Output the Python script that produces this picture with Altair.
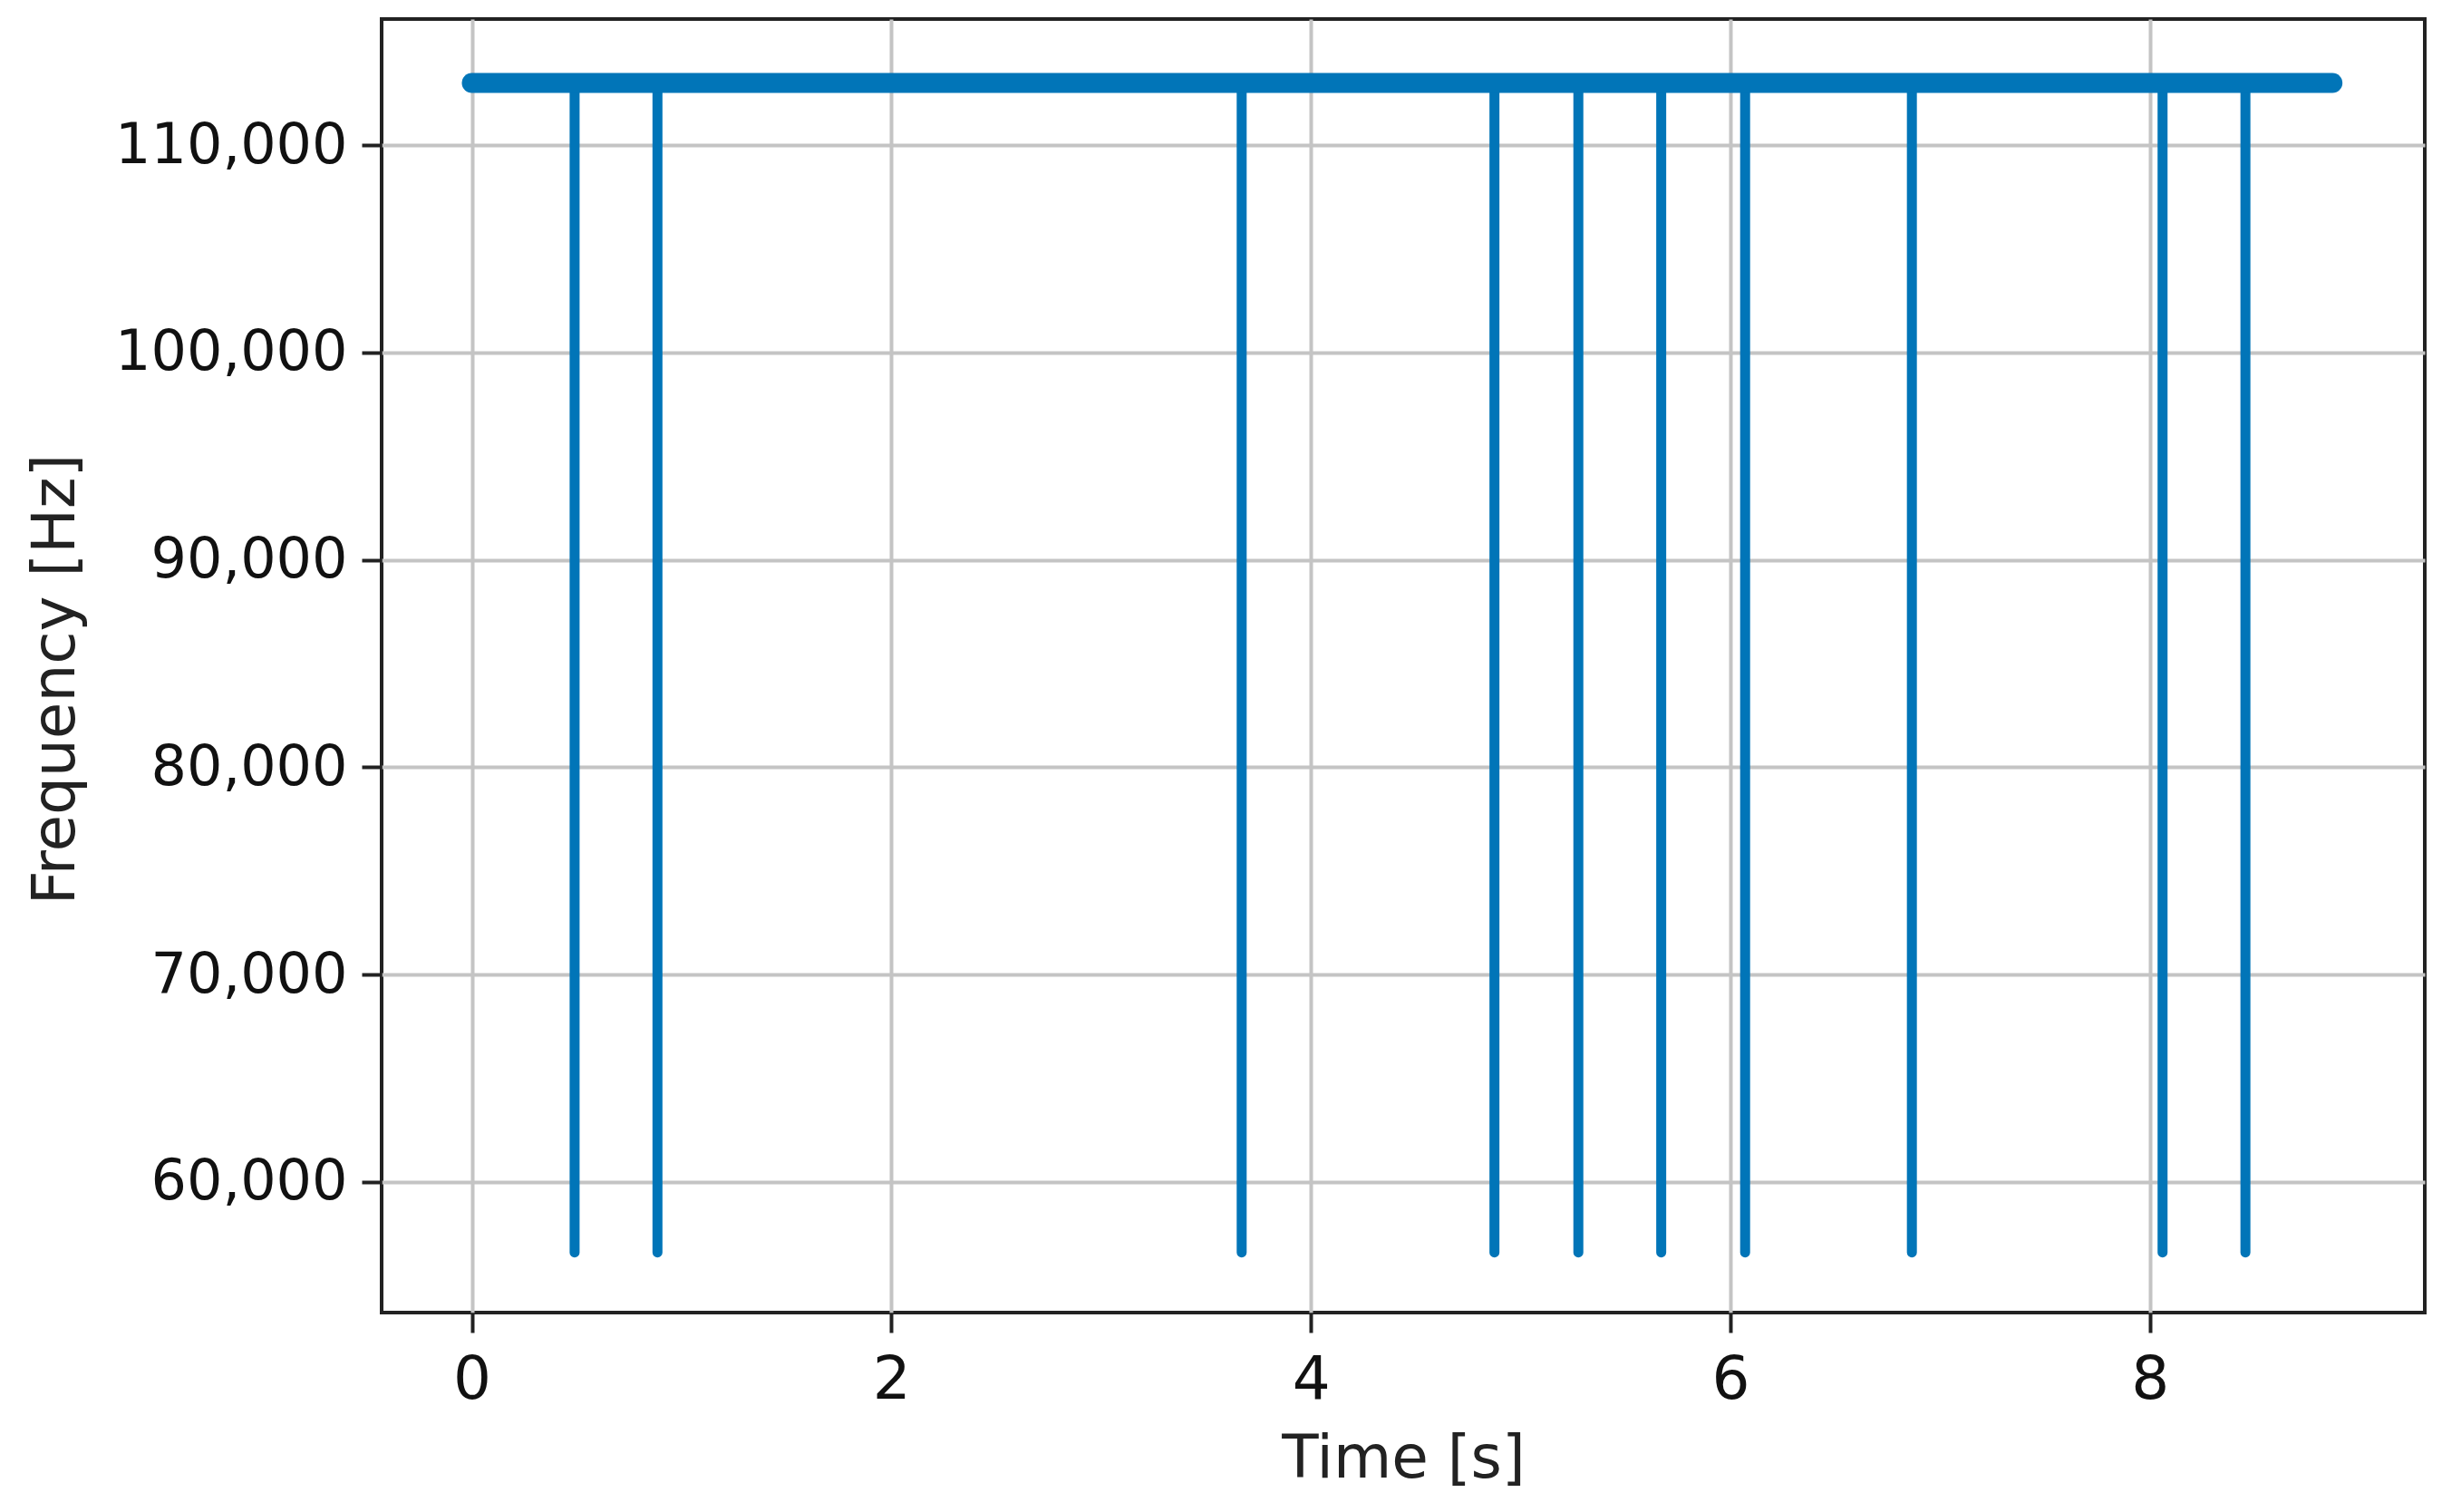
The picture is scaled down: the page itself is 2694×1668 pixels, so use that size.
import altair as alt
import pandas as pd

# Values
spike_times = [0.49, 0.885, 3.67, 4.875, 5.275, 5.67, 6.07, 6.865, 8.06, 8.455]
base_freq = 113000
spike_low = 56600
t_start = 0.0
t_end = 8.87

x_ticks = [0, 2, 4, 6, 8]
y_ticks = [60000, 70000, 80000, 90000, 100000, 110000]

color = "#0175b8"
font = "DejaVu Sans"
lfs = 62
tfs = 66

band_df = pd.DataFrame({"t": [t_start, t_end], "f": [base_freq, base_freq]})
spike_df = pd.DataFrame({"t": spike_times,
                         "top": [base_freq] * len(spike_times),
                         "low": [spike_low] * len(spike_times)})

xscale = alt.Scale(domain=[-0.43, 9.31], nice=False, zero=False)
yscale = alt.Scale(domain=[53700, 116080], nice=False, zero=False)

xaxis = alt.Axis(values=x_ticks, title="Time [s]", grid=True, format="d",
                 labelFont=font, labelFontSize=tfs, labelColor="#111",
                 titleFont=font, titleFontSize=tfs, titleFontWeight="normal",
                 titleColor="#222", tickSize=22, tickWidth=4, tickColor="#222",
                 labelPadding=20, titlePadding=22, domain=False, labelLimit=600,
                 gridColor="#c4c4c4", gridWidth=4)
yaxis = alt.Axis(values=y_ticks, title="Frequency [Hz]", grid=True, format=",.0f",
                 labelFont=font, labelFontSize=lfs, labelColor="#111",
                 titleFont=font, titleFontSize=tfs, titleFontWeight="normal",
                 titleColor="#222", tickSize=22, tickWidth=4, tickColor="#222",
                 labelPadding=16, domain=False, labelLimit=600,
                 titleX=-326, titleY=728, titleAngle=270, titleBaseline="bottom",
                 titleAlign="center",
                 gridColor="#c4c4c4", gridWidth=4)

band = alt.Chart(band_df).mark_line(color=color, strokeWidth=22, strokeCap="round").encode(
    x=alt.X("t:Q", scale=xscale, axis=xaxis),
    y=alt.Y("f:Q", scale=yscale, axis=yaxis),
)

spikes = alt.Chart(spike_df).mark_rule(color=color, strokeWidth=11, strokeCap="round").encode(
    x=alt.X("t:Q", scale=xscale, axis=xaxis),
    y=alt.Y("top:Q", scale=yscale, axis=yaxis),
    y2="low:Q",
)

chart = alt.layer(spikes, band).properties(
    width=2254, height=1427,
    autosize=alt.AutoSizeParams(type="none"),
    padding={"left": 413, "top": 13, "right": 11, "bottom": 212},
).configure_view(stroke="#222", strokeWidth=4)

chart.save("out.html", embed_options={"renderer": "svg", "actions": False})
